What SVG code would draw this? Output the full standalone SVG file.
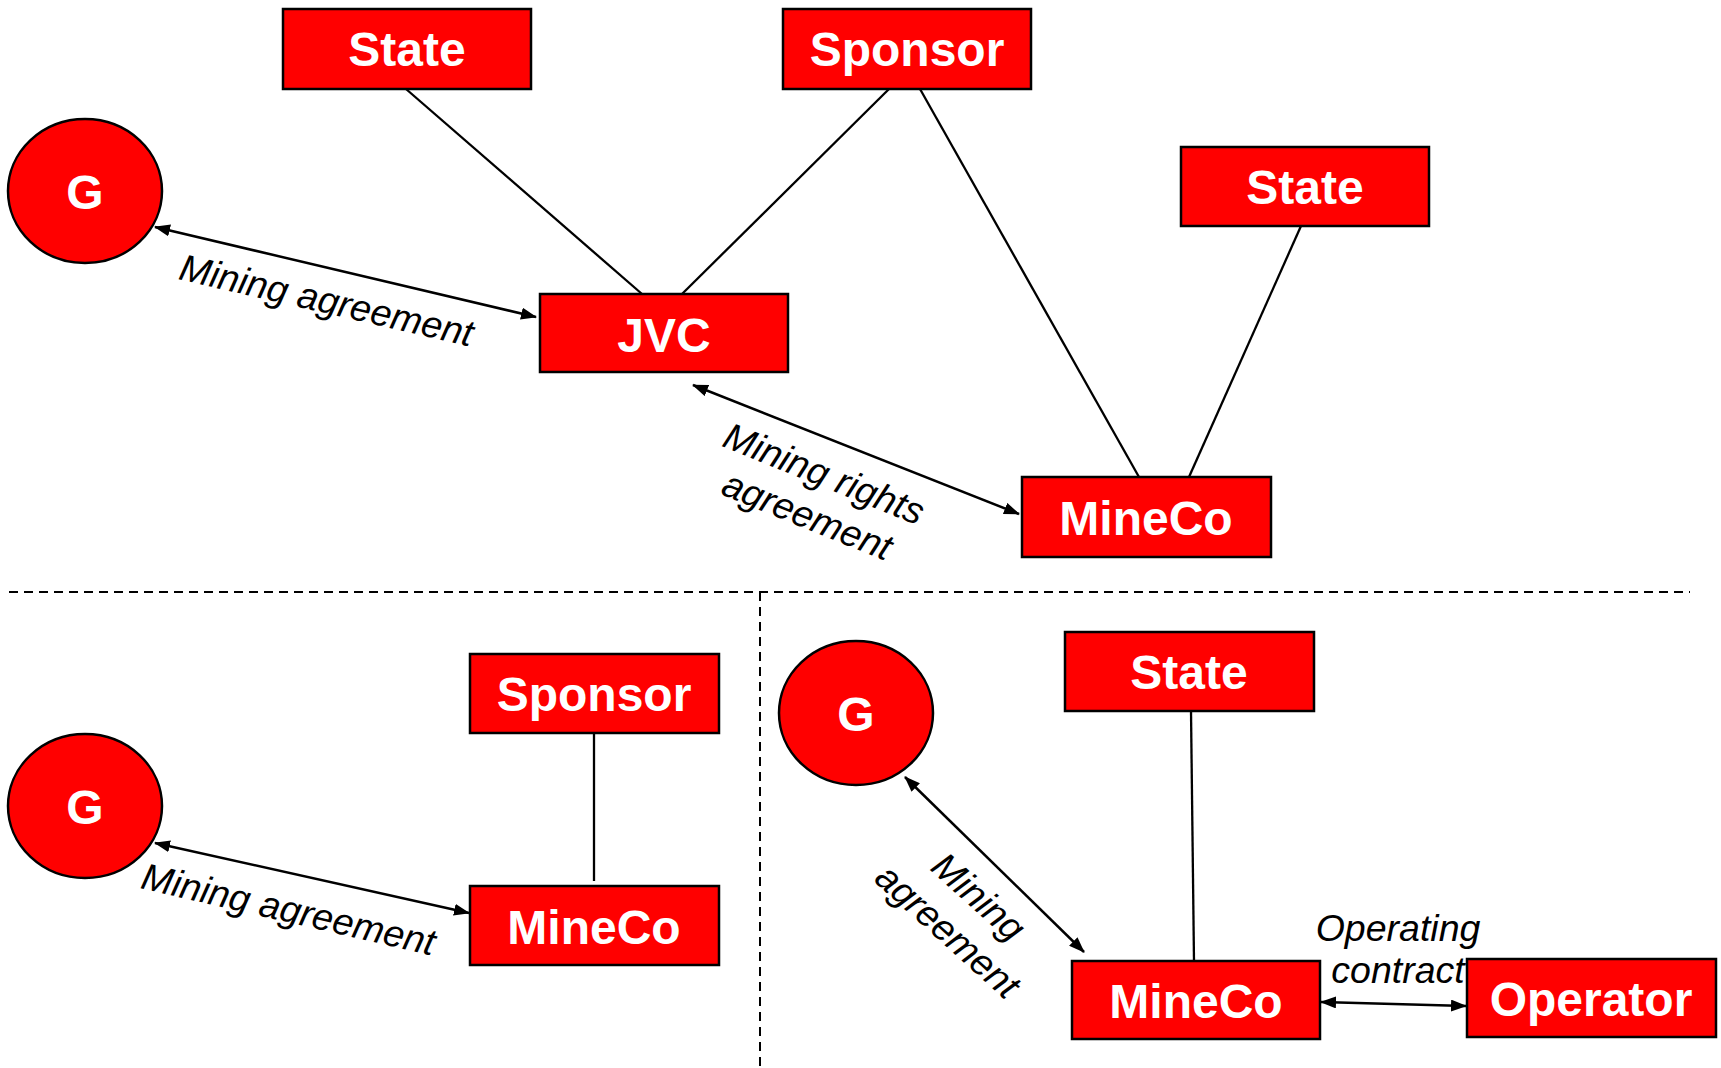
<svg xmlns="http://www.w3.org/2000/svg" width="1721" height="1068" viewBox="0 0 1721 1068">
<style>
.node{fill:#ff0000;stroke:#000;stroke-width:2.5}
.nt{fill:#fff;font-family:"Liberation Sans",Arial,sans-serif;font-weight:bold;font-size:48px;text-anchor:middle}
.lbl{fill:#000;font-family:"Liberation Sans",Arial,sans-serif;font-style:italic;font-size:37.5px;text-anchor:middle}
.ln{stroke:#000;stroke-width:2.3;fill:none}
.ar{stroke:#000;stroke-width:2.5;fill:none;marker-start:url(#ah);marker-end:url(#ah)}
.dash{stroke:#000;stroke-width:2;stroke-dasharray:9 6;fill:none}
</style>
<defs>
<marker id="ah" viewBox="0 0 16 12" refX="15" refY="6" markerWidth="16" markerHeight="12" markerUnits="userSpaceOnUse" orient="auto-start-reverse">
<path d="M0,0 L16,6 L0,12 Z" fill="#000"/>
</marker>
</defs>
<rect width="1721" height="1068" fill="#fff"/>
<g id="dividers">
<line class="dash" x1="9" y1="592" x2="1690" y2="592"/>
<line class="dash" x1="760" y1="592" x2="760" y2="1068"/>
</g>
<g id="connectors">
<line class="ln" x1="406" y1="89" x2="642" y2="294"/>
<line class="ln" x1="889" y1="89" x2="682" y2="294"/>
<line class="ln" x1="920" y1="89" x2="1139" y2="477"/>
<line class="ln" x1="1301" y1="226" x2="1189" y2="477"/>
<line class="ar" x1="155" y1="227" x2="536" y2="317"/>
<line class="ar" x1="693" y1="385" x2="1019" y2="514"/>
<line class="ln" x1="594" y1="733" x2="594" y2="881"/>
<line class="ar" x1="155" y1="843" x2="469" y2="913"/>
<line class="ln" x1="1191" y1="711" x2="1194" y2="961"/>
<line class="ar" x1="905" y1="777" x2="1084" y2="952"/>
<line class="ar" x1="1321" y1="1002" x2="1466" y2="1006"/>
</g>
<g id="labels">
<text class="lbl" transform="translate(326,303) rotate(13)" y="10">Mining agreement</text>
<text class="lbl" transform="translate(816,494) rotate(22)"><tspan x="0" y="-9">Mining rights</tspan><tspan x="0" y="36">agreement</tspan></text>
<text class="lbl" transform="translate(288,912) rotate(13)" y="10">Mining agreement</text>
<text class="lbl" transform="translate(964,913) rotate(42)"><tspan x="0" y="-9">Mining</tspan><tspan x="0" y="37">agreement</tspan></text>
<text class="lbl"><tspan x="1398" y="941">Operating</tspan><tspan x="1398" y="983">contract</tspan></text>
</g>
<g id="state1"><rect class="node" x="283" y="9" width="248" height="80"/><text class="nt" x="407" y="66">State</text></g>
<g id="sponsor1"><rect class="node" x="783" y="9" width="248" height="80"/><text class="nt" x="907" y="66">Sponsor</text></g>
<g id="g1"><ellipse class="node" cx="85" cy="191" rx="77" ry="72"/><text class="nt" x="85" y="209">G</text></g>
<g id="state2"><rect class="node" x="1181" y="147" width="248" height="79"/><text class="nt" x="1305" y="204">State</text></g>
<g id="jvc"><rect class="node" x="540" y="294" width="248" height="78"/><text class="nt" x="664" y="352">JVC</text></g>
<g id="mineco1"><rect class="node" x="1022" y="477" width="249" height="80"/><text class="nt" x="1146" y="535">MineCo</text></g>
<g id="sponsor2"><rect class="node" x="470" y="654" width="249" height="79"/><text class="nt" x="594" y="711">Sponsor</text></g>
<g id="g2"><ellipse class="node" cx="85" cy="806" rx="77" ry="72"/><text class="nt" x="85" y="824">G</text></g>
<g id="mineco2"><rect class="node" x="470" y="886" width="249" height="79"/><text class="nt" x="594" y="944">MineCo</text></g>
<g id="g3"><ellipse class="node" cx="856" cy="713" rx="77" ry="72"/><text class="nt" x="856" y="731">G</text></g>
<g id="state3"><rect class="node" x="1065" y="632" width="249" height="79"/><text class="nt" x="1189" y="689">State</text></g>
<g id="mineco3"><rect class="node" x="1072" y="961" width="248" height="78"/><text class="nt" x="1196" y="1018">MineCo</text></g>
<g id="operator"><rect class="node" x="1467" y="959" width="249" height="78"/><text class="nt" x="1591" y="1016">Operator</text></g>
</svg>
